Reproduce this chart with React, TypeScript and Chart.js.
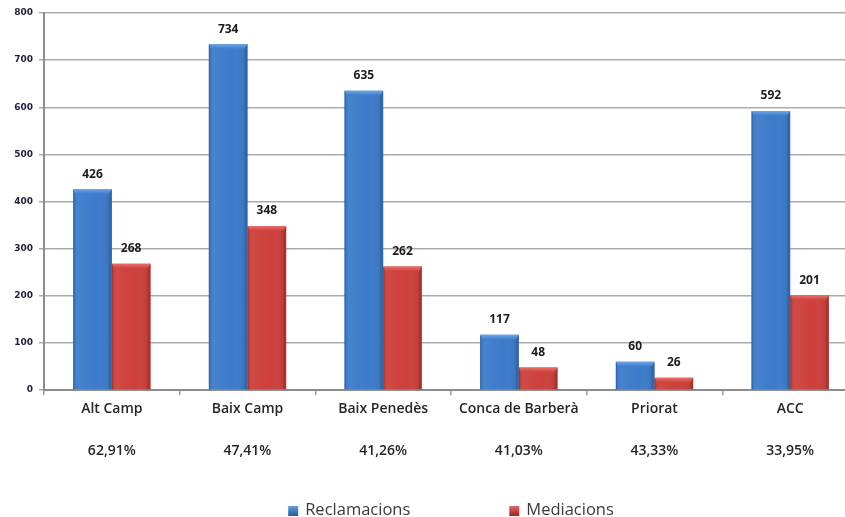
import { useEffect, useRef } from "react";
import { Chart, registerables } from "chart.js";

Chart.register(...registerables);

const categories = ["Alt Camp", "Baix Camp", "Baix Penedès", "Conca de Barberà", "Priorat", "ACC"];
const percentages = ["62,91%", "47,41%", "41,26%", "41,03%", "43,33%", "33,95%"];
const reclamacions = [426, 734, 635, 117, 60, 592];
const mediacions = [268, 348, 262, 48, 26, 201];
const seriesNames = ["Reclamacions", "Mediacions"];
const yMin = 0;
const yMax = 800;
const yStep = 100;

const palette = [
  { base: "#3b7bcb", light: "#6ea6e6", dark: "#2a5e9f" },
  { base: "#cd3f3a", light: "#e8706a", dark: "#9b2b27" },
];

const FONT = "'Open Sans', 'DejaVu Sans', sans-serif";

const bevelPlugin = {
  id: "bevel",
  afterDatasetsDraw(chart: any) {
    const ctx = chart.ctx;
    chart.data.datasets.forEach((ds: any, di: number) => {
      const meta = chart.getDatasetMeta(di);
      const col = palette[di];
      meta.data.forEach((el: any) => {
        const w = el.width;
        const l = el.x - w / 2;
        const r = el.x + w / 2;
        const t = el.y;
        const b = el.base;
        const h = b - t;
        const bev = Math.min(5, h / 2);
        ctx.save();
        const g = ctx.createLinearGradient(l, 0, r, 0);
        g.addColorStop(0, "rgba(0,0,0,0.10)");
        g.addColorStop(0.12, "rgba(255,255,255,0.06)");
        g.addColorStop(0.6, "rgba(255,255,255,0.0)");
        g.addColorStop(1, "rgba(0,0,0,0.12)");
        ctx.fillStyle = g;
        ctx.fillRect(l, t, w, h);
        // top bevel (soft)
        const gt = ctx.createLinearGradient(0, t, 0, t + bev);
        gt.addColorStop(0, col.light);
        gt.addColorStop(1, col.base);
        ctx.fillStyle = gt;
        ctx.beginPath();
        ctx.moveTo(l, t);
        ctx.lineTo(r, t);
        ctx.lineTo(r - 3, t + bev);
        ctx.lineTo(l + 2, t + bev);
        ctx.closePath();
        ctx.fill();
        // right side darker
        ctx.fillStyle = col.dark;
        ctx.globalAlpha = 0.5;
        ctx.beginPath();
        ctx.moveTo(r, t);
        ctx.lineTo(r, b);
        ctx.lineTo(r - 3, b);
        ctx.lineTo(r - 3, t + bev);
        ctx.closePath();
        ctx.fill();
        ctx.globalAlpha = 0.55;
        ctx.fillRect(l, t + 1, 1.2, h - 1);
        ctx.restore();
      });
    });
  },
};

const valueLabelPlugin = {
  id: "valueLabels",
  afterDatasetsDraw(chart: any) {
    const ctx = chart.ctx;
    ctx.save();
    ctx.font = `bold 12px ${FONT}`;
    ctx.fillStyle = "#1c1c1c";
    ctx.textAlign = "center";
    ctx.textBaseline = "middle";
    chart.data.datasets.forEach((ds: any, di: number) => {
      const meta = chart.getDatasetMeta(di);
      meta.data.forEach((el: any, i: number) => {
        ctx.fillText(String(ds.data[i]), el.x, el.y - 15);
      });
    });
    ctx.restore();
  },
};

const legendPlugin = {
  id: "customLegend",
  afterDraw(chart: any) {
    const ctx = chart.ctx;
    const area = chart.chartArea;
    ctx.save();
    ctx.font = `16.5px ${FONT}`;
    const box = 10;
    const gapText = 7;
    const gapItems = 99;
    const widths = seriesNames.map((n) => ctx.measureText(n).width);
    const total = widths.reduce((a, w) => a + box + gapText + w, 0) + gapItems * (seriesNames.length - 1);
    let x = (area.left + area.right) / 2 - total / 2;
    const cy = 510;
    seriesNames.forEach((name, i) => {
      const col = palette[i];
      const g = ctx.createLinearGradient(0, cy - box / 2, 0, cy + box / 2);
      g.addColorStop(0, col.light);
      g.addColorStop(1, col.dark);
      ctx.fillStyle = g;
      ctx.fillRect(x, cy - box / 2 + 1, box, box);
      ctx.fillStyle = "#3a3a3a";
      ctx.textBaseline = "middle";
      ctx.textAlign = "left";
      ctx.fillText(name, x + box + gapText, cy);
      x += box + gapText + widths[i] + gapItems;
    });
    ctx.restore();
  },
};

export default function App() {
  const canvasRef = useRef<HTMLCanvasElement | null>(null);

  useEffect(() => {
    const canvas = canvasRef.current;
    if (!canvas) return;
    const chart = new Chart(canvas, {
      type: "bar",
      data: {
        labels: categories.map((c, i) => [c, "", percentages[i]]),
        datasets: [
          {
            label: seriesNames[0],
            data: reclamacions,
            backgroundColor: palette[0].base,
            borderWidth: 0,
            categoryPercentage: 0.57,
            barPercentage: 1,
          },
          {
            label: seriesNames[1],
            data: mediacions,
            backgroundColor: palette[1].base,
            borderWidth: 0,
            categoryPercentage: 0.57,
            barPercentage: 1,
          },
        ],
      },
      options: {
        responsive: false,
        animation: false,
        devicePixelRatio: 1,
        layout: { padding: { top: 13, left: 0, right: 0, bottom: 0 } },
        plugins: {
          legend: { display: false },
          tooltip: { enabled: false },
        },
        scales: {
          x: {
            grid: {
              display: true,
              drawOnChartArea: false,
              drawTicks: true,
              tickLength: 5,
              color: "#9a9a9a",
              lineWidth: 1.5,
              offset: true,
            },
            border: { display: true, color: "#8c8c8c", width: 2 },
            ticks: {
              font: { family: FONT, size: 14, weight: "600", lineHeight: 1.5 },
              color: "#262626",
              padding: 4,
              maxRotation: 0,
              autoSkip: false,
            },
            afterFit(scale: any) {
              scale.height = 127;
            },
          },
          y: {
            min: yMin,
            max: yMax,
            ticks: {
              stepSize: yStep,
              font: { family: "'DejaVu Sans', sans-serif", size: 9, weight: "bold" },
              color: "#1e1e3c",
              padding: 6,
            },
            grid: {
              color: "#ababab",
              lineWidth: 1.5,
              tickLength: 5,
            },
            border: { display: true, color: "#8c8c8c", width: 2 },
            afterFit(scale: any) {
              scale.width = 44;
            },
          },
        },
      },
      plugins: [bevelPlugin, valueLabelPlugin, legendPlugin],
    });
    return () => chart.destroy();
  }, []);

  return (
    <div
      style={{
        position: "absolute",
        left: 0,
        top: 0,
        width: 845,
        height: 517,
        overflow: "hidden",
        background: "#ffffff",
      }}
    >
      <canvas ref={canvasRef} width={858} height={517} style={{ display: "block", width: 858, height: 517 }} />
    </div>
  );
}
